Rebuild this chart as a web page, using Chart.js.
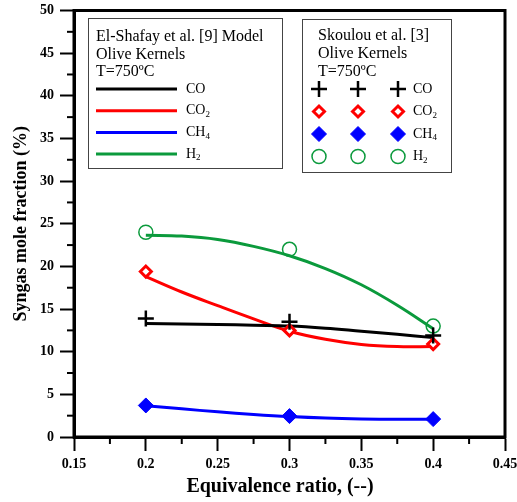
<!DOCTYPE html>
<html>
<head>
<meta charset="utf-8">
<script src="https://cdn.jsdelivr.net/npm/chart.js@4/dist/chart.umd.min.js"></script>
<style>
html,body{margin:0;padding:0;background:#fff;}
#c{display:block;}
</style>
</head>
<body>
<canvas id="c" width="517" height="502"></canvas>
<script>
// ---- data ----
const gases = ['CO', 'CO2', 'CH4', 'H2'];
const gasColors = ['#000000', '#ff0000', '#0000ff', '#0b9a3c'];

// Model (El-Shafay et al. [9]) curves
const modelX   = [0.2, 0.225, 0.25, 0.275, 0.3, 0.325, 0.35, 0.375, 0.4];
const modelCO  = [13.3, 13.25, 13.2, 13.1, 13.0, 12.75, 12.4, 12.05, 11.65];
const modelCO2 = [18.8, 17.0, 15.4, 13.85, 12.4, 11.45, 10.85, 10.6, 10.6];
const modelCH4 = [3.65, 3.3, 2.95, 2.65, 2.4, 2.22, 2.12, 2.08, 2.07];
const modelH2  = [23.65, 23.55, 23.15, 22.35, 21.25, 19.75, 17.85, 15.45, 12.7];

// Experimental (Skoulou et al. [3])
const expX   = [0.2, 0.3, 0.4];
const expCO  = [13.9, 13.5, 11.9];
const expCO2 = [19.4, 12.5, 10.9];
const expCH4 = [3.7, 2.45, 2.1];
const expH2  = [24.0, 22.0, 13.0];

const xTicks = [0.15, 0.2, 0.25, 0.3, 0.35, 0.4, 0.45];
const yTicks = [0, 5, 10, 15, 20, 25, 30, 35, 40, 45, 50];

const xTitle = 'Equivalence ratio, (--)';
const yTitle = 'Syngas mole fraction (%)';
const legend1Title = ['El-Shafay et al. [9] Model', 'Olive Kernels', 'T=750ºC'];
const legend2Title = ['Skoulou et al. [3]', 'Olive Kernels', 'T=750ºC'];

const FONT = '"Liberation Serif", "Times New Roman", serif';

const modelSets = [modelCO, modelCO2, modelCH4, modelH2];
const expSets = [expCO, expCO2, expCH4, expH2];
const expStyles = [
  {pointStyle: 'cross', radius: 8, borderWidth: 2.5, backgroundColor: 'rgba(0,0,0,0)'},
  {pointStyle: 'rectRot', radius: 5.5, borderWidth: 3, backgroundColor: '#ffffff'},
  {pointStyle: 'rectRot', radius: 7.5, borderWidth: 1, backgroundColor: '#0000ff'},
  {pointStyle: 'circle', radius: 7, borderWidth: 1.5, backgroundColor: 'rgba(0,0,0,0)'}
];

const datasets = [];
gases.forEach((g, i) => {
  datasets.push({
    label: g + ' model',
    data: modelX.map((x, k) => ({x: x, y: modelSets[i][k]})),
    showLine: true,
    borderColor: gasColors[i],
    borderWidth: 3,
    pointRadius: 0,
    tension: 0.4,
    order: 2
  });
});
gases.forEach((g, i) => {
  const s = expStyles[i];
  datasets.push({
    label: g + ' exp',
    data: expX.map((x, k) => ({x: x, y: expSets[i][k]})),
    showLine: false,
    pointStyle: s.pointStyle,
    pointRadius: s.radius,
    pointBorderWidth: s.borderWidth,
    pointBorderColor: gasColors[i],
    pointBackgroundColor: s.backgroundColor,
    borderColor: gasColors[i],
    backgroundColor: s.backgroundColor,
    order: 1
  });
});

function drawChem(ctx, text, x, y, size) {
  // digits rendered as subscripts
  let cx = x;
  const parts = text.match(/[A-Za-z]+|[0-9]+/g);
  parts.forEach(p => {
    if (/^[0-9]+$/.test(p)) {
      ctx.font = Math.round(size * 0.62) + 'px ' + FONT;
      ctx.fillText(p, cx, y + size * 0.28);
      cx += ctx.measureText(p).width;
    } else {
      ctx.font = size + 'px ' + FONT;
      ctx.fillText(p, cx, y);
      cx += ctx.measureText(p).width;
    }
  });
}

const decorPlugin = {
  id: 'decor',
  afterDraw(chart) {
    const ctx = chart.ctx;
    const a = chart.chartArea;
    const xs = chart.scales.x, ys = chart.scales.y;
    ctx.save();
    // frame
    ctx.strokeStyle = '#000';
    ctx.lineWidth = 3;
    ctx.strokeRect(a.left, a.top, a.right - a.left, a.bottom - a.top);
    // minor ticks
    ctx.lineWidth = 2;
    for (let i = 0; i < xTicks.length - 1; i++) {
      const v = (xTicks[i] + xTicks[i + 1]) / 2;
      const px = xs.getPixelForValue(v);
      ctx.beginPath(); ctx.moveTo(px, a.bottom); ctx.lineTo(px, a.bottom + 7); ctx.stroke();
    }
    for (let i = 0; i < yTicks.length - 1; i++) {
      const v = (yTicks[i] + yTicks[i + 1]) / 2;
      const py = ys.getPixelForValue(v);
      ctx.beginPath(); ctx.moveTo(a.left - 7, py); ctx.lineTo(a.left, py); ctx.stroke();
    }

    // x axis title
    ctx.fillStyle = '#000';
    ctx.textAlign = 'center';
    ctx.textBaseline = 'middle';
    ctx.font = 'bold 20px ' + FONT;
    ctx.fillText(xTitle, 280, 487);

    // legend 1
    ctx.textAlign = 'left';
    ctx.fillStyle = '#fff';
    ctx.fillRect(88, 18, 194, 150);
    ctx.strokeStyle = '#444';
    ctx.lineWidth = 1;
    ctx.strokeRect(88.5, 18.5, 194, 150);
    ctx.fillStyle = '#000';
    ctx.font = '16px ' + FONT;
    legend1Title.forEach((t, i) => ctx.fillText(t, 96, 37 + i * 17.5));
    gases.forEach((g, i) => {
      const y = 89 + i * 21.7;
      ctx.strokeStyle = gasColors[i];
      ctx.lineWidth = 3;
      ctx.beginPath(); ctx.moveTo(96, y); ctx.lineTo(177, y); ctx.stroke();
      ctx.fillStyle = '#000';
      drawChem(ctx, g, 186, y, 14);
    });

    // legend 2
    ctx.fillStyle = '#fff';
    ctx.fillRect(302, 19, 149, 153);
    ctx.strokeStyle = '#444';
    ctx.lineWidth = 1;
    ctx.strokeRect(302.5, 19.5, 149, 153);
    ctx.fillStyle = '#000';
    ctx.font = '16px ' + FONT;
    legend2Title.forEach((t, i) => ctx.fillText(t, 318, 36 + i * 17.8));
    gases.forEach((g, i) => {
      const y = 89 + i * 22.5;
      const s = expStyles[i];
      [319, 358, 398].forEach(x => {
        ctx.strokeStyle = gasColors[i];
        ctx.fillStyle = s.backgroundColor;
        ctx.lineWidth = s.borderWidth;
        Chart.helpers.drawPoint(ctx, {pointStyle: s.pointStyle, radius: s.radius, borderWidth: s.borderWidth, rotation: 0}, x, y);
      });
      ctx.fillStyle = '#000';
      drawChem(ctx, g, 413, y, 14);
    });
    ctx.restore();
  }
};

new Chart(document.getElementById('c'), {
  type: 'scatter',
  data: {datasets: datasets},
  options: {
    responsive: false,
    animation: false,
    layout: {padding: {top: 10, right: 12, left: 0, bottom: 0}},
    plugins: {legend: {display: false}, tooltip: {enabled: false}},
    scales: {
      x: {
        type: 'linear', min: 0.15, max: 0.45,
        afterBuildTicks: s => { s.ticks = xTicks.map(v => ({value: v})); },
        ticks: {
          color: '#000', padding: 5,
          font: {family: FONT, size: 14, weight: 'bold'},
          callback: v => String(parseFloat(Number(v).toFixed(2))),
          maxRotation: 0, autoSkip: false
        },
        grid: {drawOnChartArea: false, drawTicks: true, tickLength: 14, tickWidth: 2, tickColor: '#000'},
        border: {display: true, width: 3, color: '#000'},
        title: {display: false, text: xTitle},
        afterFit: s => { s.height = 65; s.paddingLeft = 0; s.paddingRight = 0; }
      },
      y: {
        type: 'linear', min: 0, max: 50,
        afterBuildTicks: s => { s.ticks = yTicks.map(v => ({value: v})); },
        ticks: {
          color: '#000', padding: 6,
          font: {family: FONT, size: 14, weight: 'bold'}
        },
        grid: {drawOnChartArea: false, drawTicks: true, tickLength: 14, tickWidth: 2, tickColor: '#000'},
        border: {display: true, width: 3, color: '#000'},
        title: {display: true, text: yTitle, color: '#000',
          font: {family: FONT, size: 18, weight: 'bold'}, padding: {top: 11, bottom: 0}},
        afterFit: s => { s.width = 74; s.paddingTop = 0; s.paddingBottom = 0; }
      }
    }
  },
  plugins: [decorPlugin]
});
</script>
</body>
</html>
